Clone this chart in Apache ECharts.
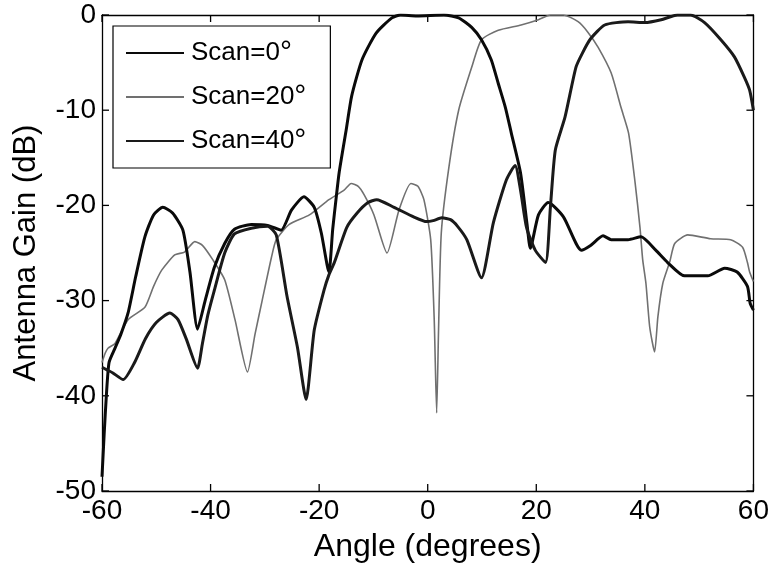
<!DOCTYPE html>
<html>
<head>
<meta charset="utf-8">
<script src="https://cdn.jsdelivr.net/npm/echarts@6/dist/echarts.min.js"></script>
<style>
  html, body { margin: 0; padding: 0; background: #fff; }
  #chart { width: 772px; height: 569px; }
</style>
</head>
<body>
<div id="chart"></div>
<script>
// axis ticks
var xTicks = [-60, -40, -20, 0, 20, 40, 60];
var yTicks = [-50, -40, -30, -20, -10, 0];
var seriesNames = ['Scan=0°', 'Scan=20°', 'Scan=40°'];

// [angle, gain dB]
var scan0 = [[-60,-48.5],[-59.6,-44],[-59.2,-40],[-58.7,-36.5],[-57.6,-35],[-56.5,-33.5],[-55.2,-31.3],[-53.8,-27.5],[-52.1,-23.3],[-50.5,-21],[-48.8,-20.2],[-47,-20.8],[-45.1,-22.6],[-43.8,-27],[-42.4,-33],[-41,-30],[-39.3,-26.5],[-37.4,-24],[-35.6,-22.5],[-32.5,-22],[-29.5,-22.1],[-27,-22.6],[-25.1,-20.5],[-22.8,-19.1],[-20.9,-20.2],[-19.6,-22.9],[-18.2,-27],[-17.5,-22.5],[-16.9,-19.4],[-16.3,-16.5],[-15,-12],[-14,-8.5],[-12.1,-4.7],[-9.5,-1.9],[-6.6,-0.3],[-5,0],[-2,-0.1],[3,0],[5.7,-0.3],[8.1,-1.3],[9.9,-2.6],[11.7,-4.7],[13,-7.2],[14.3,-9.7],[15.4,-12.4],[17.1,-16.6],[18.3,-22],[18.9,-24.5],[20.4,-21],[22.2,-19.7],[25,-21.2],[28.3,-24.7],[30,-24.2],[32.3,-23.2],[33.8,-23.6],[36.9,-23.6],[39.3,-23.3],[42,-24.7],[44.2,-26],[47.3,-27.4],[51.6,-27.4],[54.7,-26.6],[57,-27],[58.9,-28.5],[59.4,-30.3],[60,-31]];

var scan20 = [[-60,-36.5],[-59.4,-35.5],[-58.9,-35],[-57.6,-34.5],[-55.2,-32],[-52.1,-30.7],[-50.5,-28.5],[-49,-26.8],[-46.6,-25.2],[-44.8,-24.9],[-42.9,-23.8],[-41.5,-24.2],[-39.6,-25.7],[-37.4,-27.8],[-35.5,-32],[-33.2,-37.5],[-31.8,-33.5],[-30.5,-30],[-28.8,-25.5],[-27.9,-23.6],[-25.5,-22],[-21.8,-21],[-18.2,-19.4],[-15.4,-18.4],[-14.1,-17.7],[-12.8,-18],[-11.7,-18.9],[-9.9,-21],[-7.5,-25],[-5.3,-20.5],[-3.1,-17.7],[-1.8,-18],[-0.7,-19.4],[0.55,-23.6],[1.2,-32],[1.65,-41.8],[2,-33],[2.5,-22.9],[3.9,-16],[5.7,-10],[8.1,-5.5],[9.9,-2.6],[13,-1.6],[17.2,-1.05],[20.4,-0.5],[22.6,0],[25,0],[27.7,-0.7],[29.5,-1.8],[31.4,-3.4],[33.8,-6.1],[35.6,-9.7],[37,-12.4],[38.2,-17.6],[39.1,-22.3],[39.6,-25.7],[40.2,-28.2],[40.9,-32.8],[41.8,-35.4],[42.4,-31.7],[43.3,-28.2],[44.6,-25.9],[45.5,-24],[47.9,-23.1],[52.1,-23.5],[55.8,-23.6],[58,-24.4],[58.9,-26],[59.3,-27],[60,-28]];

var scan40 = [[-60,-37],[-59,-37.3],[-58,-37.6],[-56.1,-38.3],[-54,-36.5],[-52,-34],[-50,-32.3],[-47.5,-31.3],[-46,-32],[-44.5,-34],[-42.4,-37.1],[-41.5,-34.5],[-40.5,-31.5],[-39.3,-28.9],[-37.4,-25],[-35.6,-23],[-32.5,-22.4],[-29.5,-22.2],[-27.9,-23.1],[-25.9,-29.6],[-24,-34.9],[-22.4,-40.4],[-20.9,-33.1],[-19.1,-28.9],[-18.2,-27.3],[-17.2,-26],[-14.9,-22.3],[-13,-20.8],[-11,-19.7],[-9.4,-19.4],[-6.2,-20.2],[-2.6,-21.2],[-0.2,-21.7],[1,-21.6],[2.6,-21.3],[4.2,-21.5],[5.5,-22.2],[7.2,-23.6],[9.9,-27.6],[12.1,-21.8],[14.5,-17.3],[16.1,-15.8],[17.1,-18.4],[18.2,-22.3],[19.8,-24.7],[21.7,-26],[22.6,-20.2],[23.5,-14.2],[25.3,-10.7],[27.3,-5.5],[28.5,-4],[30,-2.5],[32.6,-1.05],[36.9,-0.7],[40,-0.8],[43,-0.5],[46,0],[48.4,0],[51,-0.8],[54,-2.6],[56.5,-4.4],[58.3,-6.5],[59.3,-7.9],[60,-10]];

var chart = echarts.init(document.getElementById('chart'), null, {renderer: 'canvas'});
var FONT = 'Liberation Sans, Arial, sans-serif';
var X0 = xTicks[0], X1 = xTicks[xTicks.length - 1];
var Y0 = yTicks[0], Y1 = yTicks[yTicks.length - 1];

function xAx(pos, labels) {
    return {
        type: 'value', position: pos, min: X0, max: X1, interval: 20,
        axisLine: {show: true, onZero: false, lineStyle: {color: '#000', width: 1.3}},
        axisTick: {show: false},
        axisLabel: {show: labels, color: '#000', fontSize: 28, fontFamily: FONT, margin: 6},
        splitLine: {show: false},
        name: labels ? 'Angle (degrees)' : '', nameLocation: 'middle', nameGap: 40,
        nameTextStyle: {color: '#000', fontSize: 32, fontFamily: FONT}
    };
}
function yAx(pos, labels) {
    return {
        type: 'value', position: pos, min: Y0, max: Y1, interval: 10,
        axisLine: {show: true, onZero: false, lineStyle: {color: '#000', width: 1.3}},
        axisTick: {show: false},
        axisLabel: {show: labels, color: '#000', fontSize: 28, fontFamily: FONT, margin: 6},
        splitLine: {show: false},
        name: labels ? 'Antenna Gain (dB)' : '', nameLocation: 'middle', nameGap: 60, nameRotate: 90,
        nameTextStyle: {color: '#000', fontSize: 31, fontFamily: FONT}
    };
}

// inward ticks on all four sides (MATLAB box style)
var TICK = 7;
function tickLine(a, b) {
    return {type: 'line', shape: {x1: a[0], y1: a[1], x2: b[0], y2: b[1]}, style: {stroke: '#000', lineWidth: 1.3}};
}
function renderXTick(params, api) {
    var v = api.value(0);
    var pb = api.coord([v, Y0]), pt = api.coord([v, Y1]);
    return {type: 'group', children: [
        tickLine(pb, [pb[0], pb[1] - TICK]),
        tickLine(pt, [pt[0], pt[1] + TICK])
    ]};
}
function renderYTick(params, api) {
    var v = api.value(1);
    var pl = api.coord([X0, v]), pr = api.coord([X1, v]);
    return {type: 'group', children: [
        tickLine(pl, [pl[0] + TICK, pl[1]]),
        tickLine(pr, [pr[0] - TICK, pr[1]])
    ]};
}

var option = {
    animation: false,
    backgroundColor: '#fff',
    grid: {left: 102, right: 16, top: 15, bottom: 78, containLabel: false},
    xAxis: [xAx('bottom', true), xAx('top', false)],
    yAxis: [yAx('left', true), yAx('right', false)],
    legend: {
        orient: 'vertical', left: 113, top: 26,
        padding: [12, 24, 12, 12], itemGap: 14,
        itemWidth: 58, itemHeight: 14,
        borderColor: '#000', borderWidth: 1.2, backgroundColor: '#fff',
        itemStyle: {color: 'rgba(0,0,0,0)', borderColor: 'rgba(0,0,0,0)', borderWidth: 0},
        data: seriesNames,
        formatter: function (n) {
            var p = n.split('=');
            return '{t|' + p[0] + '=' + p[1].replace('°', '') + '}{d|°}';
        },
        textStyle: {
            color: '#000', fontFamily: FONT, fontSize: 26,
            rich: {
                t: {fontSize: 26, fontFamily: FONT, color: '#000', lineHeight: 30, padding: [0, 0, 0, 2]},
                d: {fontSize: 30, fontFamily: FONT, color: '#000', lineHeight: 30}
            }
        }
    },
    series: [
        {type: 'custom', silent: true, renderItem: renderXTick, data: xTicks.map(function (v) { return [v, Y0]; }), z: 1},
        {type: 'custom', silent: true, renderItem: renderYTick, data: yTicks.map(function (v) { return [X0, v]; }), z: 1},
        {name: seriesNames[0], type: 'line', data: scan0, symbol: 'none', smooth: 0.2, lineStyle: {color: '#0a0a0a', width: 3}, itemStyle: {color: '#0a0a0a'}, z: 3},
        {name: seriesNames[1], type: 'line', data: scan20, symbol: 'none', smooth: 0.2, lineStyle: {color: '#707070', width: 1.6}, itemStyle: {color: '#707070'}, z: 2},
        {name: seriesNames[2], type: 'line', data: scan40, symbol: 'none', smooth: 0.2, lineStyle: {color: '#1a1a1a', width: 3}, itemStyle: {color: '#1a1a1a'}, z: 3}
    ]
};
chart.setOption(option);
</script>
</body>
</html>
